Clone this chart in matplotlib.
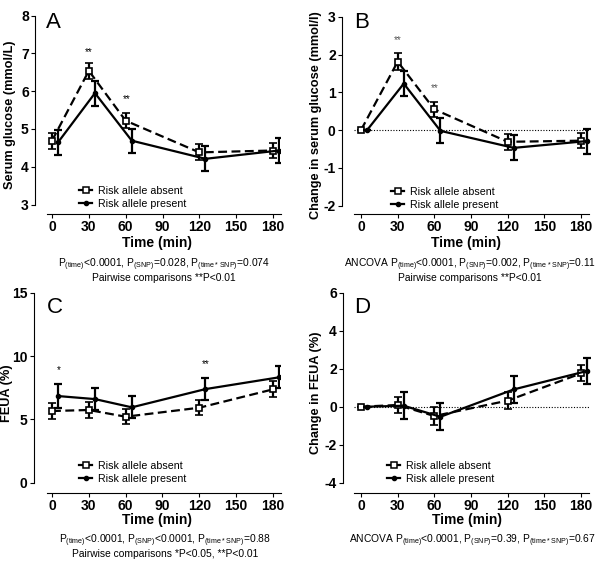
import numpy as np
import matplotlib
matplotlib.use("Agg")
import matplotlib.pyplot as plt
from matplotlib.lines import Line2D

plt.rcParams["font.family"] = ["Liberation Sans", "DejaVu Sans"]
plt.rcParams["mathtext.default"] = "regular"
plt.rcParams["axes.unicode_minus"] = False

W, H = 600, 563

time_absent = [0, 30, 60, 120, 180]
time_present = [5, 35, 65, 125, 185]

# A: serum glucose (mmol/L)
glu_absent = [4.69, 6.54, 5.22, 4.38, 4.43]
glu_absent_err = [0.21, 0.21, 0.20, 0.21, 0.20]
glu_present = [4.65, 5.95, 4.69, 4.21, 4.43]
glu_present_err = [0.33, 0.33, 0.32, 0.33, 0.32]

# B: change in serum glucose
dglu_absent = [0.0, 1.81, 0.55, -0.31, -0.28]
dglu_absent_err = [0.0, 0.22, 0.20, 0.22, 0.20]
dglu_present = [0.0, 1.23, -0.02, -0.47, -0.29]
dglu_present_err = [0.0, 0.34, 0.33, 0.33, 0.33]

# C: FEUA (%)
feua_absent = [5.66, 5.74, 5.21, 5.92, 7.37]
feua_absent_err = [0.60, 0.60, 0.60, 0.60, 0.62]
feua_present = [6.84, 6.60, 5.95, 7.39, 8.32]
feua_present_err = [0.92, 0.88, 0.88, 0.86, 0.88]

# D: change in FEUA
dfeua_absent = [0.0, 0.09, -0.49, 0.32, 1.75]
dfeua_absent_err = [0.0, 0.42, 0.45, 0.44, 0.42]
dfeua_present = [0.0, 0.05, -0.53, 0.91, 1.88]
dfeua_present_err = [0.0, 0.70, 0.70, 0.69, 0.70]

fig = plt.figure(figsize=(W / 100, H / 100), dpi=100)


def make_axes(L, R, B, x0px, x180px, ya, ya_px, yb, yb_px, T):
    # place axes so data values land on the measured pixel positions
    sx = (x180px - x0px) / 180.0
    sy = (yb_px - ya_px) / (ya - yb)
    xmin = (L - x0px) / sx
    xmax = (R - x0px) / sx
    ymax = ya + (ya_px - T) / sy
    ymin = ya - (B - ya_px) / sy
    ax = fig.add_axes([L / W, 1 - B / H, (R - L) / W, (B - T) / H])
    ax.set_xlim(xmin, xmax)
    ax.set_ylim(ymin, ymax)
    ax.patch.set_alpha(0)
    ax.px = (L, R, T, B)
    return ax


def draw_panel(ax, ya, yae, yp, ype, yticks, xstart, ylabel, ylab_px, xlab_px,
               letter, letter_px, zero_line=False):
    if zero_line:
        ax.plot([xstart, 186.5], [0, 0], color="black", lw=0.8,
                ls=(0, (1, 1.5)), zorder=1)
    ax.errorbar(time_absent, ya, yerr=yae, color="black", lw=1.6, ls=(0, (4, 2)),
                marker="s", ms=4.5, mfc="white", mec="black", mew=1.2,
                elinewidth=1.6, capsize=2.6, capthick=1.6, zorder=3)
    ax.errorbar(time_present, yp, yerr=ype, color="black", lw=1.6, ls="-",
                marker="o", ms=3, mfc="black", mec="black",
                elinewidth=1.6, capsize=2.6, capthick=1.6, zorder=4)
    for s in ["top", "right"]:
        ax.spines[s].set_visible(False)
    ax.spines["left"].set_bounds(yticks[0], yticks[-1])
    ax.spines["bottom"].set_bounds(xstart, 186.5)
    ax.spines["left"].set_linewidth(0.8)
    ax.spines["bottom"].set_linewidth(0.8)
    ax.set_yticks(yticks)
    ax.set_xticks([0, 30, 60, 90, 120, 150, 180])
    ax.tick_params(length=3, width=0.8, labelsize=10, pad=1.5)
    for lab in ax.get_xticklabels() + ax.get_yticklabels():
        lab.set_fontweight("bold")
    L, R, T, B = ax.px
    ax.set_xlabel("Time (min)", fontsize=10, fontweight="bold")
    ax.xaxis.set_label_coords(0.5, -(xlab_px - B) / (B - T))
    ax.set_ylabel(ylabel, fontsize=9.2, fontweight="bold")
    # rotated label is anchored at its right edge
    ax.yaxis.set_label_coords((ylab_px - L) / (R - L), 0.5)
    fig.text(letter_px[0] / W, 1 - letter_px[1] / H, letter, fontsize=16,
             ha="left", va="top")


def add_legend(ax, x, y):
    handles = [
        Line2D([], [], color="black", lw=1.6, ls="-", marker="s", ms=4,
               mfc="white", mec="black", mew=1.1),
        Line2D([], [], color="black", lw=1.6, ls="-", marker="o", ms=3),
    ]
    ax.legend(handles, ["Risk allele absent", "Risk allele present"],
              loc="upper left", bbox_to_anchor=(x / W, 1 - y / H),
              bbox_transform=fig.transFigure, frameon=False, fontsize=7.7,
              handlelength=1.25, handletextpad=0.55, labelspacing=0.3,
              borderpad=0, borderaxespad=0)


def ftext(x, y, s, **kw):
    fig.text(x / W, 1 - y / H, s, ha="center", va="center", **kw)


# Panel A
axA = make_axes(35, 280, 214, 52, 273, 8, 15.7, 3, 204.5, 15.7)
draw_panel(axA, glu_absent, glu_absent_err, glu_present, glu_present_err,
           [3, 4, 5, 6, 7, 8], -4, "Serum glucose (mmol/L)", 16, 236, "A", (46, 12))
add_legend(axA, 79, 186)
axA.text(30, 7.04, "**", ha="center", va="center", fontsize=7)
axA.text(61, 5.78, "**", ha="center", va="center", fontsize=7)

# Panel B
axB = make_axes(342, 590, 214, 361, 581, 3, 16.7, -2, 205.7, 16.7)
draw_panel(axB, dglu_absent, dglu_absent_err, dglu_present, dglu_present_err,
           [-2, -1, 0, 1, 2, 3], -5.7, "Change in serum glucose (mmol/l)", 322, 236,
           "B", (354, 12), zero_line=True)
add_legend(axB, 391, 187)
axB.text(30, 2.38, "**", ha="center", va="center", fontsize=7, color="#555555")
axB.text(60, 1.10, "**", ha="center", va="center", fontsize=7, color="#555555")

# Panel C
axC = make_axes(34, 280, 493, 52, 273, 15, 292.7, 0, 482.7, 292.7)
draw_panel(axC, feua_absent, feua_absent_err, feua_present, feua_present_err,
           [0, 5, 10, 15], -4, "FEUA (%)", 13, 513, "C", (47, 297))
add_legend(axC, 79, 461)
axC.text(5.7, 8.9, "*", ha="center", va="center", fontsize=7)
axC.text(125, 9.37, "**", ha="center", va="center", fontsize=7)

# Panel D
axD = make_axes(343, 590, 493, 361, 581, 6, 292.7, -4, 482.7, 292.7)
draw_panel(axD, dfeua_absent, dfeua_absent_err, dfeua_present, dfeua_present_err,
           [-4, -2, 0, 2, 4, 6], -5.7, "Change in FEUA (%)", 322, 513, "D",
           (354, 297), zero_line=True)
add_legend(axD, 387, 461)

# statistics notes
st = dict(fontsize=7.4)
ftext(164, 265, r"P$_{(time)}$<0.0001, P$_{(SNP)}$=0.028, P$_{(time*SNP)}$=0.074", **st)
ftext(164, 278, "Pairwise comparisons **P<0.01", **st)
ftext(470, 265, r"ANCOVA P$_{(time)}$<0.0001, P$_{(SNP)}$=0.002, P$_{(time*SNP)}$=0.11", **st)
ftext(470, 278, "Pairwise comparisons **P<0.01", **st)
ftext(165, 541, r"P$_{(time)}$<0.0001, P$_{(SNP)}$<0.0001, P$_{(time*SNP)}$=0.88", **st)
ftext(165, 554, "Pairwise comparisons *P<0.05, **P<0.01", **st)
ftext(472, 541, r"ANCOVA P$_{(time)}$<0.0001, P$_{(SNP)}$=0.39, P$_{(time*SNP)}$=0.67", **st)

fig.savefig("out.png", dpi=100)
